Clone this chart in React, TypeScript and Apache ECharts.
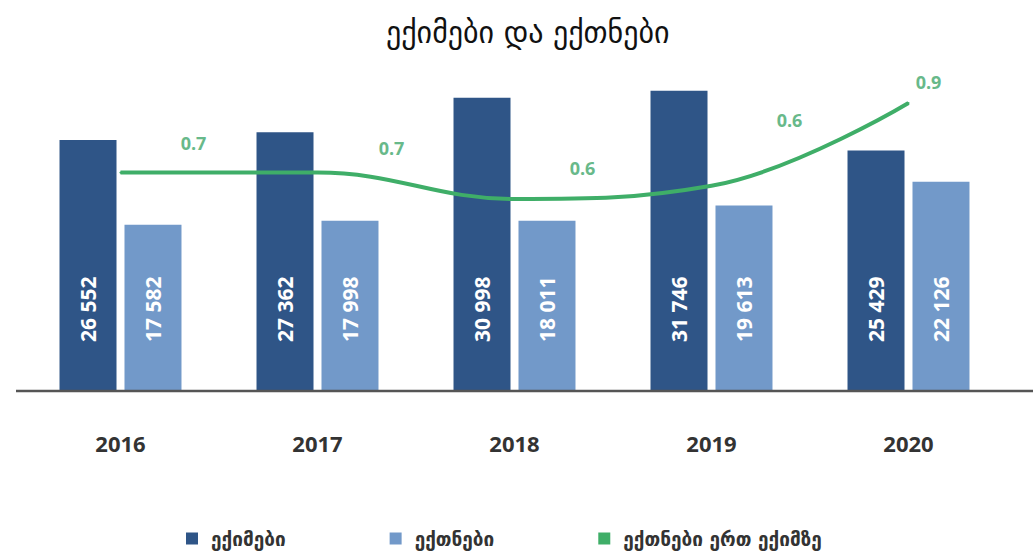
import React, { useEffect, useRef } from "react";
import * as echarts from "echarts";

const years = ["2016", "2017", "2018", "2019", "2020"];
const doctors = [26552, 27362, 30998, 31746, 25429];
const nurses = [17582, 17998, 18011, 19613, 22126];
const nursesPerDoctor = [0.66, 0.66, 0.58, 0.62, 0.87];
const seriesNames = ["ექიმები", "ექთნები", "ექთნები ერთ ექიმზე"];
const titleText = "ექიმები და ექთნები";

// label placement (style only)
const lineLabelOffsets = [
  [73, -15],
  [74, -10],
  [68, -16],
  [78, -51],
  [20, -6],
];

const DARK = "#2f5587";
const LIGHT = "#7299c9";
const GREEN = "#3fae68";
const GREEN_LABEL = "#68b98a";

const fmt = (v: number) => String(v).replace(/\B(?=(\d{3})+(?!\d))/g, " ");

export default function App() {
  const ref = useRef<HTMLDivElement>(null);
  useEffect(() => {
    if (!ref.current) return;
    const chart = echarts.init(ref.current, undefined, { renderer: "svg" });
    const gridTop = 60;
    const gridBottom = 160;
    const baseY = 551 - gridBottom;
    const barLabel = {
      show: true,
      position: "insideBottom",
      distance: 49,
      rotate: 90,
      align: "left",
      verticalAlign: "middle",
      color: "#ffffff",
      fontFamily: "Open Sans",
      fontWeight: "bold",
      fontSize: 21,
      formatter: (p: any) => fmt(p.value),
    };
    chart.setOption({
      animation: false,
      title: {
        text: titleText,
        left: 381,
        top: 12,
        textStyle: {
          fontFamily: "DejaVu Sans",
          fontWeight: "normal",
          fontSize: 30,
          color: "#111",
        },
      },
      legend: {
        top: 524,
        left: 181,
        itemWidth: 12,
        itemHeight: 12,
        itemGap: 104,
        icon: "rect",
        textStyle: {
          fontFamily: "DejaVu Sans",
          fontWeight: "bold",
          fontSize: 19,
          color: "#333",
          padding: [0, 0, 0, 8],
        },
        data: seriesNames,
      },
      grid: { left: 22, right: 26, top: gridTop, bottom: gridBottom },
      xAxis: {
        type: "category",
        data: years,
        axisTick: { show: false },
        axisLine: { show: false },
        axisLabel: {
          margin: 41,
          fontFamily: "Open Sans",
          fontWeight: "bold",
          fontSize: 22,
          color: "#333",
        },
      },
      yAxis: [
        { type: "value", min: 0, max: 35000, show: false },
        { type: "value", min: 0, max: 1, show: false },
      ],
      graphic: [
        {
          type: "line",
          z: 10,
          shape: { x1: 16, y1: baseY, x2: 1033, y2: baseY },
          style: { stroke: "#555", lineWidth: 2.5 },
        },
      ],
      series: [
        {
          name: seriesNames[0],
          type: "bar",
          data: doctors,
          barWidth: 57,
          barGap: "14%",
          itemStyle: { color: DARK },
          label: barLabel,
        },
        {
          name: seriesNames[1],
          type: "bar",
          data: nurses,
          barWidth: 57,
          barGap: "14%",
          itemStyle: { color: LIGHT },
          label: barLabel,
        },
        {
          name: seriesNames[2],
          type: "line",
          yAxisIndex: 1,
          smooth: 0.4,
          symbol: "circle",
          symbolSize: 2,
          showSymbol: true,
          itemStyle: { color: GREEN },
          lineStyle: { color: GREEN, width: 4 },
          label: {
            show: true,
            position: "top",
            color: GREEN_LABEL,
            fontFamily: "Open Sans",
            fontWeight: "bold",
            fontSize: 18,
            formatter: (p: any) => Number(p.value).toFixed(1),
          },
          data: nursesPerDoctor.map((v, i) => ({
            value: v,
            label: { offset: lineLabelOffsets[i] },
          })),
          z: 5,
        },
      ],
    });
    return () => chart.dispose();
  }, []);
  return <div ref={ref} style={{ width: 1033, height: 551, position: "absolute", left: 0, top: 0 }} />;
}
